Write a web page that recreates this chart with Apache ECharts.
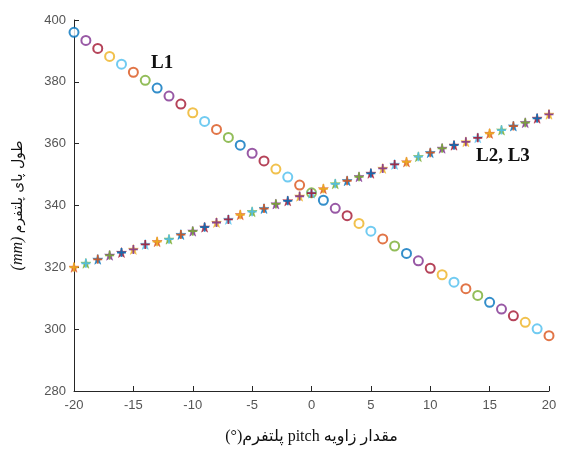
<!DOCTYPE html>
<html>
<head>
<meta charset="utf-8">
<script src="https://cdn.jsdelivr.net/npm/echarts@6/dist/echarts.min.js"></script>
<style>
  html, body { margin: 0; padding: 0; background: #fff; }
  #chart { width: 563px; height: 449px; }
</style>
</head>
<body>
<div id="chart"></div>
<script>
// pitch angle (deg)
var pitch = [];
for (var d = -20; d <= 20; d++) pitch.push(d);

// L1 leg length (mm)
var l1 = [396.0, 393.4, 390.8, 388.2, 385.7, 383.1, 380.5, 378.0, 375.4, 372.8,
  370.0, 367.2, 364.6, 362.0, 359.5, 356.9, 354.4, 351.8, 349.2, 346.6,
  344.1, 341.7, 339.1, 336.7, 334.2, 331.7, 329.2, 326.9, 324.5, 322.1, 319.7,
  317.6, 315.2, 313.1, 310.9, 308.7, 306.5, 304.3, 302.2, 300.1, 297.9];

// L2 and L3 overlap (mm)
var l23 = [320.0, 321.3, 322.6, 323.9, 324.8, 325.8, 327.4, 328.3, 329.1, 330.6, 331.7,
  333.0, 334.5, 335.5, 337.0, 338.0, 339.0, 340.5, 341.5, 343.0,
  344.0, 345.4, 347.0, 348.0, 349.3, 350.4, 352.0, 353.3, 354.1, 355.8, 357.1,
  358.5, 359.5, 360.6, 361.9, 363.3, 364.4, 365.7, 366.8, 368.2, 369.5];

var xTicks = [-20, -15, -10, -5, 0, 5, 10, 15, 20];
var yTicks = [280, 300, 320, 340, 360, 380, 400];

// matlab colour order, advanced once per plot() call in a loop
var colorOrder = ['#0072BD', '#D95319', '#EDB120', '#7E2F8E', '#77AC30', '#4DBEEE', '#A2142F'];

function pts(vals, offset) {
  return vals.map(function (v, i) {
    return {
      value: [pitch[i], v],
      itemStyle: { color: colorOrder[(3 * i + offset) % 7], borderColor: colorOrder[(3 * i + offset) % 7] }
    };
  });
}

var starPath = 'path://M50,0L61,35L98,35L68,57L79,91L50,70L21,91L32,57L2,35L39,35Z';
var plusPath = 'path://M40,0H60V40H100V60H60V100H40V60H0V40H40Z';

var axisColor = '#262626';
var labelColor = '#555';

var chart = echarts.init(document.getElementById('chart'));
chart.setOption({
  animation: false,
  backgroundColor: '#fff',
  grid: { left: 74, right: 14, top: 20, bottom: 58, outerBoundsMode: 'none' },
  xAxis: {
    type: 'value',
    min: -20, max: 20, interval: 5,
    name: '\u202Bمقدار زاویه pitch پلتفرم(°)\u202C',
    nameLocation: 'middle',
    nameGap: 38,
    nameTextStyle: { fontFamily: '"Liberation Serif", "DejaVu Sans", serif', fontSize: 16, color: '#111' },
    axisLine: { show: true, onZero: false, lineStyle: { color: axisColor, width: 1 } },
    axisTick: { show: true, inside: true, length: 5, lineStyle: { color: axisColor } },
    axisLabel: { color: labelColor, fontFamily: '"Liberation Sans", Arial', fontSize: 13, margin: 8 },
    splitLine: { show: false }
  },
  yAxis: {
    type: 'value',
    min: 280, max: 400, interval: 20,
    name: '{i|(mm)} {a|طول پای پلتفرم}',
    nameLocation: 'middle',
    nameRotate: 90,
    nameGap: 48,
    nameTextStyle: {
      color: '#111',
      rich: {
        i: { fontFamily: '"Liberation Serif", serif', fontStyle: 'italic', fontSize: 16, color: '#111' },
        a: { fontFamily: '"DejaVu Sans", sans-serif', fontSize: 14, color: '#111' }
      }
    },
    axisLine: { show: true, onZero: false, lineStyle: { color: axisColor, width: 1 } },
    axisTick: { show: true, inside: true, length: 5, lineStyle: { color: axisColor } },
    axisLabel: { color: labelColor, fontFamily: '"Liberation Sans", Arial', fontSize: 13, margin: 8 },
    splitLine: { show: false }
  },
  series: [
    {
      name: 'L1', type: 'scatter', symbol: 'emptyCircle', symbolSize: 9,
      itemStyle: { borderWidth: 1.6, opacity: 0.8 },
      data: pts(l1, 0)
    },
    {
      name: 'L2', type: 'scatter', symbol: starPath, symbolSize: 10,
      itemStyle: { borderWidth: 0.5, opacity: 0.85 },
      data: pts(l23, 1)
    },
    {
      name: 'L3', type: 'scatter', symbol: plusPath, symbolSize: 9,
      itemStyle: { borderWidth: 0, opacity: 0.85 },
      data: pts(l23, 2)
    }
  ],
  graphic: [
    {
      type: 'text', left: 151, top: 54,
      style: { text: 'L1', font: 'bold 19px "Liberation Serif", serif', fill: '#111' }
    },
    {
      type: 'text', left: 476, top: 147,
      style: { text: 'L2, L3', font: 'bold 19px "Liberation Serif", serif', fill: '#111' }
    }
  ]
});
</script>
</body>
</html>
